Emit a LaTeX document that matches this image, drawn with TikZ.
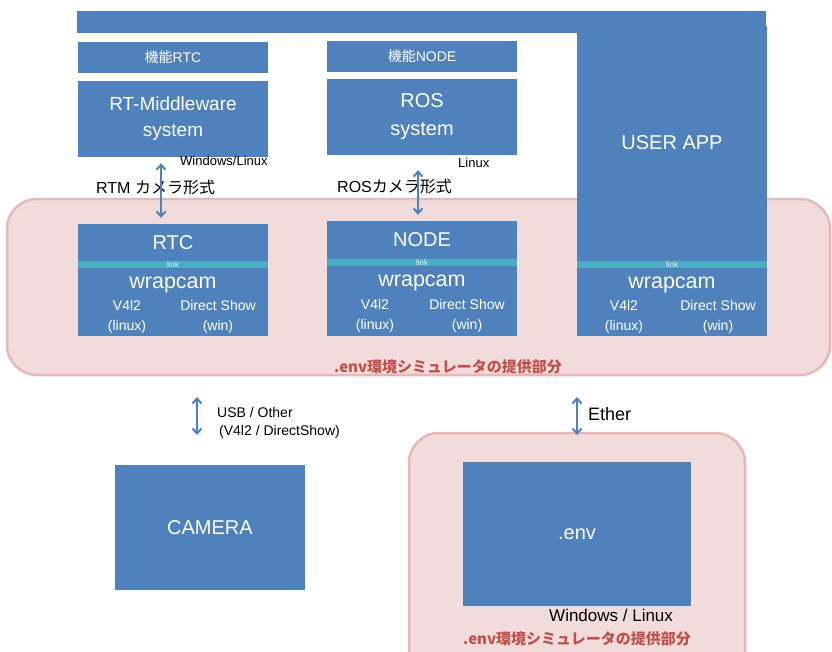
\documentclass[tikz,border=0pt]{standalone}
\usepackage{fontspec}
\setmainfont{Liberation Sans}
\newfontfamily\cjk{Noto Sans CJK JP}
\usetikzlibrary{arrows.meta}
\definecolor{bblue}{HTML}{4F81BD}
\definecolor{lcyan}{HTML}{4BACC6}
\definecolor{pfill}{HTML}{F2DCDB}
\definecolor{pdraw}{HTML}{E6B9B8}
\definecolor{rtext}{HTML}{C0504D}
\tikzset{
  box/.style={fill=bblue, draw=none, inner sep=0pt, text=white, align=center},
  strip/.style={fill=lcyan, draw=none, inner sep=0pt, minimum height=7pt, minimum width=190pt},
  linklbl/.style={text=white!85!lcyan, font=\fontsize{8}{8}\selectfont, inner sep=0pt},
  wtxt/.style={text=white, inner sep=0pt, align=center},
  btxt/.style={text=black, inner sep=0pt, anchor=west},
  region/.style={fill=pfill, draw=pdraw, line width=2.5pt, rounded corners=30pt},
  dbl/.style={draw=bblue, line width=2pt, {Straight Barb[length=5pt,width=9pt]}-{Straight Barb[length=5pt,width=9pt]}},
  redlbl/.style={text=rtext, inner sep=0pt, font=\cjk\bfseries\fontsize{15}{17}\selectfont},
}
\begin{document}
\begin{tikzpicture}[x=1pt,y=-1pt]
\useasboundingbox (0,0) rectangle (832,651);
\clip (0,0) rectangle (832,651);
% regions
\draw[region] (7,199) rectangle (830,375);
\draw[region] (409,433) rectangle (745,690);
% top
\node[box, minimum width=689pt, minimum height=22pt] (topbar) at (421.5,22) {};
\node[box, minimum width=190pt, minimum height=310pt] (user) at (672,181) {};
\node[wtxt, font=\fontsize{20}{24}\selectfont] (usertxt) at (672,143) {USER APP};
% RTC column
\node[box, minimum width=190pt, minimum height=31pt, font=\fontsize{14}{16}\selectfont] (frtc) at (173,57.5) {{\cjk 機能}RTC};
\node[box, minimum width=190pt, minimum height=76pt, font=\fontsize{19}{26}\selectfont] (rtm) at (173,119) {RT-Middleware\\system};
\node[box, minimum width=190pt, minimum height=112pt] (rtc) at (173,280) {};
\node[strip] (link1) at (173,264.5) {};
\node[linklbl] at (link1) {link};
\node[wtxt, font=\fontsize{20}{24}\selectfont] at (173,243) {RTC};
\node[wtxt, font=\fontsize{21.5}{24}\selectfont] at (173,285) {wrapcam};
\node[wtxt, font=\fontsize{14}{20}\selectfont] at (127,317) {V4l2\\(linux)};
\node[wtxt, font=\fontsize{14}{20}\selectfont] at (218,317) {Direct Show\\(win)};
% NODE column
\node[box, minimum width=190pt, minimum height=31pt, font=\fontsize{14}{16}\selectfont] (fnode) at (422,56.5) {{\cjk 機能}NODE};
\node[box, minimum width=190pt, minimum height=76pt, font=\fontsize{20}{28}\selectfont] (ros) at (422,117) {ROS\\system};
\node[box, minimum width=190pt, minimum height=115pt] (nodebox) at (422,278.5) {};
\node[strip] (link2) at (422,262.5) {};
\node[linklbl] at (link2) {link};
\node[wtxt, font=\fontsize{20}{24}\selectfont] at (422,240) {NODE};
\node[wtxt, font=\fontsize{21.5}{24}\selectfont] at (422,283) {wrapcam};
\node[wtxt, font=\fontsize{14}{20}\selectfont] at (375,316) {V4l2\\(linux)};
\node[wtxt, font=\fontsize{14}{20}\selectfont] at (467,316) {Direct Show\\(win)};
% USER column lower
\node[strip] (link3) at (672,264.5) {};
\node[linklbl] at (link3) {link};
\node[wtxt, font=\fontsize{21.5}{24}\selectfont] at (672,285) {wrapcam};
\node[wtxt, font=\fontsize{14}{20}\selectfont] at (624,317) {V4l2\\(linux)};
\node[wtxt, font=\fontsize{14}{20}\selectfont] at (718,317) {Direct Show\\(win)};
% labels top area
\node[btxt, font=\fontsize{13}{15}\selectfont] at (180,161) {Windows/Linux};
\node[btxt, font=\fontsize{13}{15}\selectfont] at (458,163) {Linux};
\node[btxt, font=\fontsize{16}{18}\selectfont] at (96,187) {RTM {\cjk カメラ形式}};
\node[btxt, font=\fontsize{16}{18}\selectfont] at (337,186) {ROS{\cjk カメラ形式}};
% arrows top
\draw[dbl, shorten <=6pt, shorten >=6pt] ([xshift=-12pt]rtm.south) -- ([xshift=-12pt]rtc.north);
\draw[dbl, shorten <=15pt, shorten >=6pt] ([xshift=-4pt]ros.south) -- ([xshift=-4pt]nodebox.north);
\node[redlbl] at (448,367) {.env環境シミュレータの提供部分};
% bottom
\coordinate (usbT) at (197,397);
\coordinate (usbB) at (197,435);
\draw[dbl] (usbT) -- (usbB);
\node[btxt, font=\fontsize{14}{16}\selectfont] at (217,412) {USB / Other};
\node[btxt, font=\fontsize{14}{16}\selectfont] at (219,432) {(V4l2 / DirectShow)};
\node[box, minimum width=190pt, minimum height=125pt, font=\fontsize{20}{24}\selectfont] (camera) at (210,527.5) {CAMERA};
\coordinate (ethT) at (577,397);
\coordinate (ethB) at (577,435);
\draw[dbl] (ethT) -- (ethB);
\node[btxt, font=\fontsize{18}{20}\selectfont] at (588,414) {Ether};
\node[box, minimum width=228pt, minimum height=144pt, font=\fontsize{20}{24}\selectfont] (env) at (577,534) {.env};
\node[btxt, font=\fontsize{17}{19}\selectfont] at (549,615) {Windows / Linux};
\node[redlbl] at (577,639) {.env環境シミュレータの提供部分};
\end{tikzpicture}
\end{document}
